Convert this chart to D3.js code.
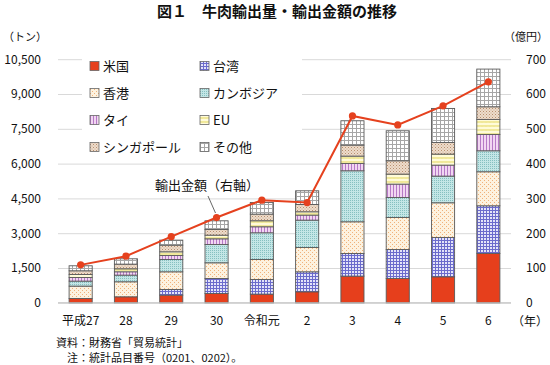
<!DOCTYPE html>
<html>
<head>
<meta charset="utf-8">
<script src="https://cdn.jsdelivr.net/npm/d3@7"></script>
<style>
  body { margin: 0; background: #fff; }
  svg text { font-family: "Noto Sans CJK JP", "Noto Sans", sans-serif; fill: #111; }
</style>
</head>
<body>
<svg id="chart" width="550" height="365"></svg>
<script>
// years and values
const years = ["平成27", "28", "29", "30", "令和元", "2", "3", "4", "5", "6"];
const usa       = [187, 259, 330, 402, 374, 474, 1150, 1049, 1121, 2127];
const taiwan    = [0, 0, 244, 647, 632, 862, 977, 1250, 1696, 2055];
const hongkong  = [532, 647, 762, 675, 862, 1049, 1365, 1380, 1494, 1466];
const cambodia  = [216, 287, 532, 790, 1150, 1178, 2199, 862, 1150, 905];
const thailand  = [158, 144, 172, 244, 259, 216, 316, 575, 474, 704];
const eu        = [129, 129, 158, 158, 259, 144, 316, 431, 474, 647];
const singapore = [158, 201, 287, 244, 287, 316, 474, 575, 503, 546];
const others    = [216, 230, 216, 374, 503, 589, 1049, 1293, 1466, 1624];
const exportValue = [109, 134, 190, 245, 295, 288, 537, 511, 566, 635]; // 億円

const seriesNames = ["米国", "台湾", "香港", "カンボジア", "タイ", "EU", "シンガポール", "その他"];
const seriesData = [usa, taiwan, hongkong, cambodia, thailand, eu, singapore, others];
const leftTicks = [0, 1500, 3000, 4500, 6000, 7500, 9000, 10500];
const rightTicks = [0, 100, 200, 300, 400, 500, 600, 700];

const svg = d3.select("#chart");
const defs = svg.append("defs");

// fill patterns, one per series
function makePattern(id, size, bg, draw) {
    const p = defs.append("pattern")
        .attr("id", id)
        .attr("patternUnits", "userSpaceOnUse")
        .attr("width", size)
        .attr("height", size);
    p.append("rect").attr("width", size).attr("height", size).attr("fill", bg);
    draw(p);
}

makePattern("p1", 3, "#e4e4f8", function (p) {
    p.append("path").attr("d", "M0,0.5H3M0.5,0V3").attr("stroke", "#6b6bcc").attr("stroke-width", 1);
});
makePattern("p2", 4, "#fdf2df", function (p) {
    p.append("rect").attr("x", 0).attr("y", 0).attr("width", 1).attr("height", 1).attr("fill", "#f0b27a");
    p.append("rect").attr("x", 2).attr("y", 2).attr("width", 1).attr("height", 1).attr("fill", "#f0b27a");
});
makePattern("p3", 2, "#c4e6e6", function (p) {
    p.append("rect").attr("x", 0).attr("y", 0).attr("width", 1).attr("height", 1).attr("fill", "#86c0c0");
});
makePattern("p4", 3, "#f2d6f2", function (p) {
    p.append("rect").attr("x", 0).attr("y", 0).attr("width", 1).attr("height", 3).attr("fill", "#b67ac6");
});
makePattern("p5", 4, "#fffbd9", function (p) {
    p.append("path").attr("d", "M0,3L1,1L2,3L3,1L4,3").attr("fill", "none").attr("stroke", "#eadf7a").attr("stroke-width", 0.8);
});
makePattern("p6", 3, "#eedccc", function (p) {
    p.append("rect").attr("x", 0).attr("y", 0).attr("width", 1).attr("height", 1).attr("fill", "#b8906e");
    p.append("rect").attr("x", 1.5).attr("y", 1.5).attr("width", 1).attr("height", 1).attr("fill", "#c9a88a");
});
makePattern("p7", 4, "#ffffff", function (p) {
    p.append("path").attr("d", "M0,0.5H4M0.5,0V4").attr("stroke", "#a6a6a6").attr("stroke-width", 1);
});

const fills = ["#e63f1c", "url(#p1)", "url(#p2)", "url(#p3)", "url(#p4)", "url(#p5)", "url(#p6)", "url(#p7)"];

const x = d3.scaleBand()
    .domain(years)
    .range([58, 511])
    .paddingInner(0.49)
    .paddingOuter(0.245);

const y = d3.scaleLinear().domain([0, 10500]).range([302.8, 59.2]);
const y2 = d3.scaleLinear().domain([0, 700]).range([302.8, 59.2]);

// gridlines
const grid = svg.append("g")
    .attr("transform", "translate(58,0)")
    .call(d3.axisLeft(y).tickValues(leftTicks).tickSize(-453).tickFormat(""));
grid.select(".domain").remove();
grid.selectAll("line").attr("stroke", "#d9d9d9");

// left axis labels
const leftAxis = svg.append("g")
    .attr("transform", "translate(58,0)")
    .call(d3.axisLeft(y).tickValues(leftTicks).tickSize(0).tickPadding(17).tickFormat(d3.format(",")));
leftAxis.select(".domain").remove();
leftAxis.selectAll("text").attr("font-size", 12).attr("fill", "#111");

// right axis labels
const rightAxis = svg.append("g")
    .attr("transform", "translate(511,0)")
    .call(d3.axisRight(y2).tickValues(rightTicks).tickSize(0).tickPadding(15));
rightAxis.select(".domain").remove();
rightAxis.selectAll("text").attr("font-size", 12).attr("fill", "#111");

// x axis labels
const bottomAxis = svg.append("g")
    .attr("transform", "translate(0,302.8)")
    .call(d3.axisBottom(x).tickSize(0).tickPadding(14));
bottomAxis.select(".domain").remove();
bottomAxis.selectAll("text").attr("font-size", 12).attr("fill", "#111");

// legend box (covers gridlines)
svg.append("rect")
    .attr("x", 82).attr("y", 52).attr("width", 220).attr("height", 108)
    .attr("fill", "#fff");

// stacked bars
const stackRows = years.map(function (yr, i) {
    const row = { year: yr };
    seriesNames.forEach(function (name, k) { row[name] = seriesData[k][i]; });
    return row;
});
const stacked = d3.stack().keys(seriesNames)(stackRows);

svg.append("g")
    .selectAll("g")
    .data(stacked)
    .join("g")
        .attr("fill", function (d, i) { return fills[i]; })
    .selectAll("rect")
    .data(function (d) { return d.filter(function (s) { return s[1] > s[0]; }); })
    .join("rect")
        .attr("x", function (d) { return x(d.data.year); })
        .attr("y", function (d) { return y(d[1]); })
        .attr("width", x.bandwidth())
        .attr("height", function (d) { return y(d[0]) - y(d[1]); })
        .attr("stroke", "#5a5a5a")
        .attr("stroke-width", 0.9);

// baseline
svg.append("line")
    .attr("x1", 58).attr("x2", 511)
    .attr("y1", y(0)).attr("y2", y(0))
    .attr("stroke", "#bfbfbf");

// export value line
const lineGen = d3.line()
    .x(function (d, i) { return x(years[i]) + x.bandwidth() / 2; })
    .y(function (d) { return y2(d); });

svg.append("path")
    .datum(exportValue)
    .attr("d", lineGen)
    .attr("fill", "none")
    .attr("stroke", "#e5411e")
    .attr("stroke-width", 2);

svg.append("g")
    .selectAll("circle")
    .data(exportValue)
    .join("circle")
        .attr("cx", function (d, i) { return x(years[i]) + x.bandwidth() / 2; })
        .attr("cy", function (d) { return y2(d); })
        .attr("r", 3.6)
        .attr("fill", "#e5411e");

// legend
const legend = svg.append("g")
    .selectAll("g")
    .data(seriesNames)
    .join("g")
        .attr("transform", function (d, i) {
            return "translate(" + (i % 2 === 0 ? 90 : 200) + "," + (66 + Math.floor(i / 2) * 27) + ")";
        });
legend.append("rect")
    .attr("x", 0).attr("y", -4.5).attr("width", 9).attr("height", 9)
    .attr("fill", function (d, i) { return fills[i]; })
    .attr("stroke", "#666").attr("stroke-width", 0.8);
legend.append("text")
    .attr("x", 13).attr("y", 0)
    .attr("dy", "0.36em")
    .attr("font-size", 13)
    .text(function (d) { return d; });

// annotation for line
svg.append("text")
    .attr("x", 155).attr("y", 185).attr("dy", "0.36em")
    .attr("font-size", 13)
    .text("輸出金額（右軸）");
svg.append("line")
    .attr("x1", 208).attr("y1", 196).attr("x2", 215.5).attr("y2", 213)
    .attr("stroke", "#404040").attr("stroke-width", 0.8);

// titles and unit labels
svg.append("text")
    .attr("x", 277).attr("y", 12).attr("dy", "0.36em")
    .attr("text-anchor", "middle")
    .attr("font-size", 15).attr("font-weight", "bold")
    .text("図１　牛肉輸出量・輸出金額の推移");
svg.append("text")
    .attr("x", 3).attr("y", 37).attr("dy", "0.36em")
    .attr("font-size", 11)
    .text("（トン）");
svg.append("text")
    .attr("x", 548).attr("y", 37).attr("dy", "0.36em")
    .attr("text-anchor", "end")
    .attr("font-size", 11)
    .text("（億円）");
svg.append("text")
    .attr("x", 548).attr("y", 322).attr("dy", "0.36em")
    .attr("text-anchor", "end")
    .attr("font-size", 12)
    .text("（年）");

// notes
svg.append("text")
    .attr("x", 56).attr("y", 343).attr("dy", "0.36em")
    .attr("font-size", 11)
    .text("資料：財務省「貿易統計」");
svg.append("text")
    .attr("x", 67).attr("y", 358).attr("dy", "0.36em")
    .attr("font-size", 11)
    .text("注：統計品目番号（0201、0202）。");
</script>
</body>
</html>
